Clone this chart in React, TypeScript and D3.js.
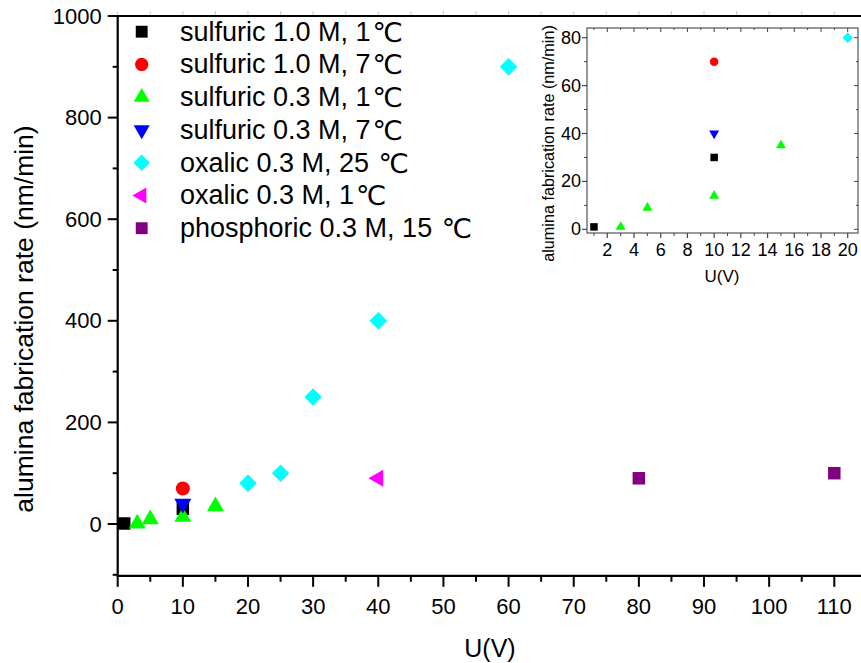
import React from "react";
import * as d3 from "d3";

// ---------- data ----------
type Series = { name: string; unit: string; shape: string; color: string; x: number[]; y: number[] };

const seriesNames = [
  "sulfuric 1.0 M, 1",
  "sulfuric 1.0 M, 7",
  "sulfuric 0.3 M, 1",
  "sulfuric 0.3 M, 7",
  "oxalic 0.3 M, 25 ",
  "oxalic 0.3 M, 1",
  "phosphoric 0.3 M, 15 ",
];
const seriesUnit = "\u2103";
const seriesShapes = ["square", "circle", "up", "down", "diamond", "left", "square"];
const seriesColors = ["#000000", "#ff0000", "#00ff00", "#0000ff", "#00ffff", "#ff00ff", "#800080"];

const s1x = [1, 10];
const s1y = [1, 30];
const s2x = [10];
const s2y = [70];
const s3x = [3, 5, 10, 15];
const s3y = [1, 9, 14, 35];
const s4x = [10];
const s4y = [40];
const s5x = [20, 25, 30, 40, 60];
const s5y = [80, 100, 250, 400, 900];
const s6x = [40];
const s6y = [90];
const s7x = [80, 110];
const s7y = [90, 100];

const seriesX = [s1x, s2x, s3x, s4x, s5x, s6x, s7x];
const seriesY = [s1y, s2y, s3y, s4y, s5y, s6y, s7y];

const mainXTicks = [0, 10, 20, 30, 40, 50, 60, 70, 80, 90, 100, 110];
const mainYTicks = [0, 200, 400, 600, 800, 1000];
const insetXTicks = [2, 4, 6, 8, 10, 12, 14, 16, 18, 20];
const insetYTicks = [0, 20, 40, 60, 80];

const series: Series[] = seriesNames.map((name, i) => ({
  name,
  unit: seriesUnit,
  shape: seriesShapes[i],
  color: seriesColors[i],
  x: seriesX[i],
  y: seriesY[i],
}));

// ---------- marker ----------
function markerPath(shape: string, w: number): string {
  if (shape === "square") return d3.symbol(d3.symbolSquare, w * w)() as string;
  if (shape === "circle") return d3.symbol(d3.symbolCircle, Math.PI * (w / 2) * (w / 2))() as string;
  if (shape === "diamond") {
    const s = w / Math.SQRT2;
    return d3.symbol(d3.symbolSquare, s * s)() as string;
  }
  return d3.symbol(d3.symbolTriangle, (Math.sqrt(3) / 4) * w * w)() as string;
}
function markerRot(shape: string): number {
  if (shape === "down") return 180;
  if (shape === "left") return -90;
  if (shape === "diamond") return 45;
  return 0;
}
const mainSize: Record<string, number> = { square: 12.5, circle: 14, up: 17, down: 17, diamond: 17.5, left: 17 };
const insetSize: Record<string, number> = { square: 7.5, circle: 8.5, up: 10, down: 10, diamond: 10.5, left: 10 };

const FONT = "Liberation Sans, Arial, Helvetica, sans-serif";

export default function App() {
  const x = d3.scaleLinear().domain([0, 110]).range([117.7, 834.3]);
  const y = d3.scaleLinear().domain([0, 1000]).range([524, 16]);
  const yBottom = y(-102);
  const xRight = 868;

  const xMinor = d3.range(5, 115, 10);
  const yMinor = d3.range(-100, 1000, 200);

  const ix = d3.scaleLinear().domain([2, 20]).range([607.3, 847.7]);
  const iy = d3.scaleLinear().domain([0, 80]).range([229.3, 37.7]);
  const iL = 587, iR = 858, iT = 28, iB = 233;
  const ixMinor = d3.range(1, 21, 2);
  const iyMinor = d3.range(10, 80, 20);
  const ixTop = d3.range(1, 21, 1);

  return (
    <svg width={861} height={663} style={{ position: "absolute", left: 0, top: 0, background: "#fff" }} fontFamily={FONT}>
      <rect x={0} y={0} width={861} height={663} fill="#fff" />
      <line x1={x(0)} x2={xRight} y1={16} y2={16} stroke="#000" strokeWidth={2.2} />
      {xMinor.concat(mainXTicks).map((t, i) => (
        <line key={"tt" + i} x1={x(t)} x2={x(t)} y1={15} y2={11} stroke="#ccc" strokeWidth={1} />
      ))}
      <line x1={x(0)} x2={x(0)} y1={15} y2={yBottom + 1} stroke="#000" strokeWidth={2.2} />
      {mainYTicks.map((t) => (
        <g key={"yt" + t}>
          <line x1={x(0) - 10} x2={x(0)} y1={y(t)} y2={y(t)} stroke="#000" strokeWidth={2} />
          <text x={x(0) - 16} y={y(t)} textAnchor="end" dominantBaseline="central" fontSize={22}>
            {t}
          </text>
        </g>
      ))}
      {yMinor.map((t) => (
        <line key={"ym" + t} x1={x(0) - 5} x2={x(0)} y1={y(t)} y2={y(t)} stroke="#000" strokeWidth={2} />
      ))}
      <line x1={x(0) - 1} x2={xRight} y1={yBottom} y2={yBottom} stroke="#000" strokeWidth={2.2} />
      {mainXTicks.map((t) => (
        <g key={"xt" + t}>
          <line x1={x(t)} x2={x(t)} y1={yBottom} y2={yBottom + 11} stroke="#000" strokeWidth={2} />
          <text x={x(t)} y={606} textAnchor="middle" dominantBaseline="central" fontSize={22}>
            {t}
          </text>
        </g>
      ))}
      {xMinor.map((t) => (
        <line key={"xm" + t} x1={x(t)} x2={x(t)} y1={yBottom} y2={yBottom + 6} stroke="#000" strokeWidth={2} />
      ))}
      <text x={490} y={648} textAnchor="middle" dominantBaseline="central" fontSize={25}>
        U(V)
      </text>
      <text
        transform={`translate(24, ${319}) rotate(-90)`}
        textAnchor="middle"
        dominantBaseline="central"
        fontSize={26.5}
      >
        alumina fabrication rate (nm/min)
      </text>

      {series.map((s, si) =>
        s.x.map((xv, j) => (
          <path
            key={"m" + si + "-" + j}
            d={markerPath(s.shape, mainSize[s.shape])}
            transform={`translate(${x(xv)},${y(s.y[j])}) rotate(${markerRot(s.shape)})`}
            fill={s.color}
          />
        ))
      )}

      {series.map((s, i) => {
        const cy = 31.7 + i * 32.75;
        return (
          <g key={"lg" + i}>
            <path
              d={markerPath(s.shape, mainSize[s.shape] * 0.95)}
              transform={`translate(141.7,${cy}) rotate(${markerRot(s.shape)})`}
              fill={s.color}
            />
            <text x={180} y={cy} dominantBaseline="central" fontSize={27} style={{ whiteSpace: "pre" }}>
              {s.name}
              <tspan fontFamily="DejaVu Sans, sans-serif" fontSize={27} dx={2}>
                {s.unit}
              </tspan>
            </text>
          </g>
        );
      })}

      <rect x={iL} y={iT} width={iR - iL} height={iB - iT} fill="#fff" stroke="#555" strokeWidth={1.2} />
      {insetYTicks.map((t) => (
        <g key={"iyt" + t}>
          <line x1={iL - 5} x2={iL} y1={iy(t)} y2={iy(t)} stroke="#444" strokeWidth={1.2} />
          <line x1={iR - 4} x2={iR} y1={iy(t)} y2={iy(t)} stroke="#444" strokeWidth={1} />
          <text x={iL - 6} y={iy(t)} textAnchor="end" dominantBaseline="central" fontSize={18}>
            {t}
          </text>
        </g>
      ))}
      {iyMinor.map((t) => (
        <g key={"iym" + t}>
          <line x1={iL - 3} x2={iL} y1={iy(t)} y2={iy(t)} stroke="#444" strokeWidth={1} />
          <line x1={iR - 2} x2={iR} y1={iy(t)} y2={iy(t)} stroke="#444" strokeWidth={1} />
        </g>
      ))}
      {insetXTicks.map((t) => (
        <g key={"ixt" + t}>
          <line x1={ix(t)} x2={ix(t)} y1={iB} y2={iB + 5} stroke="#444" strokeWidth={1.2} />
          <text x={ix(t)} y={250} textAnchor="middle" dominantBaseline="central" fontSize={18}>
            {t}
          </text>
        </g>
      ))}
      {ixMinor.map((t) => (
        <line key={"ixm" + t} x1={ix(t)} x2={ix(t)} y1={iB} y2={iB + 3} stroke="#444" strokeWidth={1} />
      ))}
      {ixTop.map((t) => (
        <line key={"ixtop" + t} x1={ix(t)} x2={ix(t)} y1={iT} y2={iT + (t % 2 === 0 ? 4 : 2)} stroke="#444" strokeWidth={1} />
      ))}
      <text x={722} y={276} textAnchor="middle" dominantBaseline="central" fontSize={17}>
        U(V)
      </text>
      <text
        transform={`translate(548, ${143.5}) rotate(-90)`}
        textAnchor="middle"
        dominantBaseline="central"
        fontSize={16.2}
      >
        alumina fabrication rate (nm/min)
      </text>
      {series.map((s, si) =>
        s.x
          .map((xv, j) => ({ xv, yv: s.y[j], j }))
          .filter((p) => p.xv <= 20 && p.yv <= 84)
          .map((p) => (
            <path
              key={"i" + si + "-" + p.j}
              d={markerPath(s.shape, insetSize[s.shape])}
              transform={`translate(${ix(p.xv)},${iy(p.yv)}) rotate(${markerRot(s.shape)})`}
              fill={s.color}
            />
          ))
      )}
    </svg>
  );
}
